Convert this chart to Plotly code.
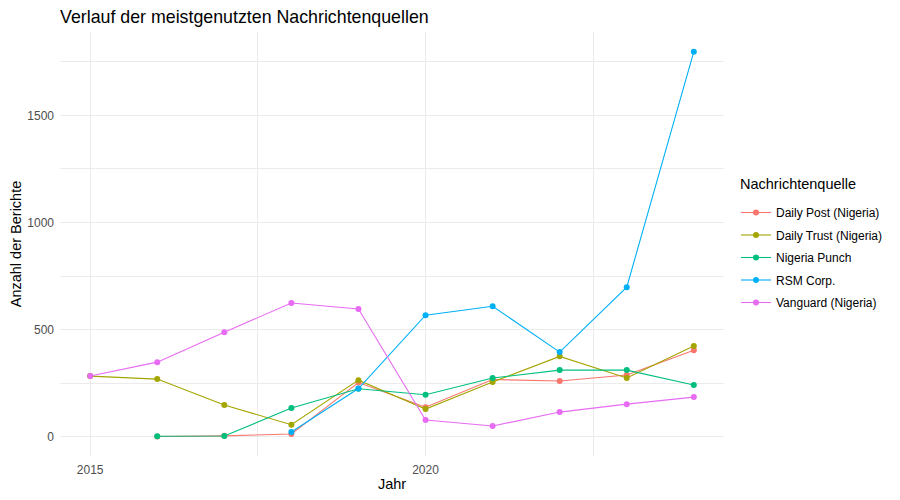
import plotly.graph_objects as go

# Jahre und Anzahl der Berichte je Quelle
jahre = [2015, 2016, 2017, 2018, 2019, 2020, 2021, 2022, 2023, 2024]

daily_post = [None, 1, 4, 13, 253, 138, 267, 260, 288, 404]
daily_trust = [283, 269, 148, 56, 264, 129, 255, 375, 274, 423]
nigeria_punch = [None, 2, 3, 134, 224, 196, 274, 311, 311, 241]
rsm_corp = [None, None, None, 22, 225, 567, 609, 395, 698, 1797]
vanguard = [283, 348, 488, 624, 596, 78, 50, 115, 152, 185]

quellen = ["Daily Post (Nigeria)", "Daily Trust (Nigeria)", "Nigeria Punch",
           "RSM Corp.", "Vanguard (Nigeria)"]
werte = [daily_post, daily_trust, nigeria_punch, rsm_corp, vanguard]
farben = ["#F8766D", "#A3A500", "#00BF7D", "#00B0F6", "#E76BF3"]

fig = go.Figure()
for name, y, farbe in zip(quellen, werte, farben):
    fig.add_trace(go.Scatter(
        x=jahre, y=y, name=name, legendgroup=name,
        mode="lines+markers",
        line=dict(color=farbe, width=1.1),
        marker=dict(color=farbe, size=6),
    ))

# Die Seite hat 8px Rand, deshalb ist die Figur etwas kleiner
W, H = 892, 492
grid = "#EBEBEB"

# Legendentitel als Annotation, damit der Abstand zu den Eintraegen passt
fig.add_annotation(
    text="Nachrichtenquelle", xref="paper", yref="paper",
    x=(738 - 60) / 664, y=(456 - 184) / 424, xanchor="left", yanchor="middle",
    showarrow=False, font=dict(size=14.5, color="black"),
)

fig.update_layout(
    width=W, height=H,
    paper_bgcolor="white", plot_bgcolor="white",
    font=dict(family="Liberation Sans, Arial, sans-serif", color="black"),
    margin=dict(l=52, r=176, t=24, b=44, autoexpand=False),
    title=dict(text="Verlauf der meistgenutzten Nachrichtenquellen",
               x=52 / W, xanchor="left", y=1 - 2.5 / H, yanchor="top",
               font=dict(size=17.8, color="black")),
    legend=dict(
        font=dict(size=12, color="black"),
        xref="container", yref="container",
        x=728 / W, xanchor="left", y=1 - 190 / H, yanchor="top",
        tracegroupgap=3.5,
    ),
    xaxis=dict(
        title=dict(text="Jahr", font=dict(size=14.5), standoff=2),
        range=[2014.55, 2024.45], tick0=2015, dtick=5,
        showgrid=True, gridcolor=grid, gridwidth=1.1,
        minor=dict(dtick=2.5, tick0=2015, showgrid=True, gridcolor=grid, gridwidth=0.6),
        zeroline=False, showline=False, ticks="",
        ticklabelstandoff=5, automargin=False,
        tickfont=dict(size=12, color="#4D4D4D"),
    ),
    yaxis=dict(
        title=dict(text="Anzahl der Berichte", font=dict(size=14.5), standoff=4),
        range=[-90, 1889], tick0=0, dtick=500,
        showgrid=True, gridcolor=grid, gridwidth=1.1,
        minor=dict(dtick=250, tick0=0, showgrid=True, gridcolor=grid, gridwidth=0.6),
        zeroline=False, showline=False, ticks="",
        ticklabelstandoff=5, automargin=False,
        tickfont=dict(size=12, color="#4D4D4D"),
    ),
)

fig.write_html("out.html")
